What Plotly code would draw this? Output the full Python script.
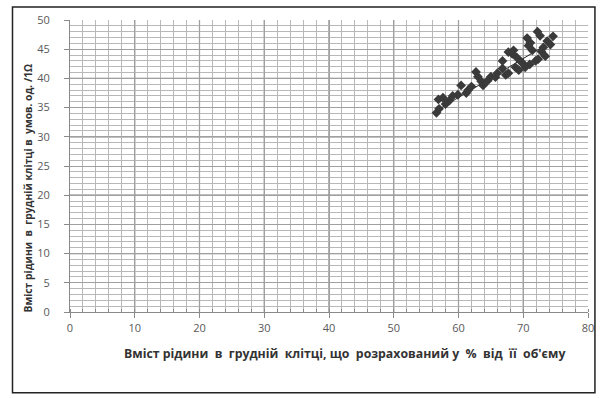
import plotly.graph_objects as go

# Data
x_vals = [56.6, 57.0, 56.9, 57.6, 58.6, 59.1, 59.9, 60.4, 61.2, 61.5, 62.7, 63.0, 63.8, 63.5,
          65.0, 65.7, 66.0, 66.8, 67.3, 67.7, 68.3, 68.5, 68.8, 69.3, 69.6, 70.0, 70.8, 71.1,
          71.4, 71.9, 72.3, 73.1, 73.4, 73.7, 74.2, 74.6, 72.2, 72.6, 70.6, 67.7, 66.8, 64.5,
          62.0, 58.0, 69.0, 70.3, 71.0, 72.8]
y_vals = [34.1, 34.8, 36.4, 36.7, 36.2, 37.0, 37.2, 38.8, 37.5, 38.0, 41.1, 40.3, 38.8, 39.5,
          40.3, 40.2, 40.9, 41.7, 40.6, 40.9, 44.2, 44.8, 41.9, 41.4, 42.9, 42.5, 45.6, 46.1,
          44.8, 43.0, 43.3, 45.3, 43.8, 46.4, 45.8, 47.2, 48.0, 47.3, 46.9, 44.5, 43.0, 39.6,
          38.6, 35.6, 43.6, 41.9, 42.4, 44.6]

trend_x = [56.5, 74.5]
trend_y = [34.4, 46.4]

x_ticks = [0, 10, 20, 30, 40, 50, 60, 70, 80]
y_ticks = [0, 5, 10, 15, 20, 25, 30, 35, 40, 45, 50]

x_title = "Вміст рідини\u00a0 в\u00a0 грудній\u00a0 клітці, що\u00a0 розрахований у\u00a0 %\u00a0 від\u00a0 її\u00a0 об'єму"
y_title = "Вміст рідини\u00a0 в\u00a0 грудній клітці в\u00a0 умов. од. /1Ω"

fig = go.Figure()

fig.add_trace(go.Scatter(
    x=trend_x, y=trend_y, mode="lines",
    line=dict(color="#222222", width=1), hoverinfo="skip", showlegend=False))

fig.add_trace(go.Scatter(
    x=x_vals, y=y_vals, mode="markers",
    marker=dict(symbol="diamond", size=7.5, color="#3a3a3a", line=dict(width=0)),
    showlegend=False))

# darker major gridlines
for xv in [10, 20, 30, 40, 50, 60, 70]:
    fig.add_shape(type="line", xref="x", yref="y", x0=xv, x1=xv, y0=0, y1=50,
                  line=dict(color="#808080", width=1.2), layer="below")
for yv in [10, 20, 30, 40]:
    fig.add_shape(type="line", xref="x", yref="y", x0=0, x1=80, y0=yv, y1=yv,
                  line=dict(color="#808080", width=1.2), layer="below")

# outer frame
fig.add_shape(type="rect", xref="paper", yref="paper",
              x0=-0.111, x1=1.0134, y0=-0.2765, y1=1.0444,
              line=dict(color="#222222", width=1.5), layer="above")

title_font = dict(color="#333333", family="Open Sans, sans-serif", weight="bold")

# axis titles as annotations (positioned as in the original)
fig.add_annotation(text=x_title, xref="paper", yref="paper", x=0.53, y=-0.1433,
                   xanchor="center", yanchor="middle", showarrow=False,
                   font=dict(size=12.3, **title_font))
fig.add_annotation(text=y_title, xref="paper", yref="paper", x=-0.082, y=0.425,
                   xanchor="center", yanchor="middle", showarrow=False, textangle=-90,
                   font=dict(size=10.3, **title_font))

fig.update_layout(
    width=606, height=398,
    margin=dict(l=70, r=13, t=19, b=86),
    paper_bgcolor="white", plot_bgcolor="white",
    font=dict(family="Open Sans, Liberation Sans, sans-serif", color="#595959", size=11),
    xaxis=dict(
        range=[0, 80], tickvals=x_ticks, ticktext=[str(v) for v in x_ticks],
        showgrid=True, gridcolor="#a0a0a0", gridwidth=1,
        minor=dict(dtick=2, showgrid=True, gridcolor="#b8b8b8", gridwidth=1,
                   ticks="inside", ticklen=3, tickcolor="#8a8a8a"),
        showline=True, linecolor="#8a8a8a", linewidth=1,
        ticks="outside", ticklen=5, tickcolor="#8a8a8a",
        zeroline=False, ticklabelstandoff=1,
        fixedrange=True,
    ),
    yaxis=dict(
        range=[0, 50], tickvals=y_ticks, ticktext=[str(v) for v in y_ticks],
        showgrid=True, gridcolor="#a0a0a0", gridwidth=1,
        minor=dict(dtick=1, showgrid=True, gridcolor="#b8b8b8", gridwidth=1),
        showline=True, linecolor="#8a8a8a", linewidth=1,
        ticks="outside", ticklen=5, tickcolor="#8a8a8a",
        zeroline=False, ticklabelstandoff=12,
        fixedrange=True,
    ),
)

fig.write_html("out.html", config={"displayModeBar": False, "staticPlot": True},
               post_script="document.body.style.margin='0';document.body.style.overflow='hidden';")
